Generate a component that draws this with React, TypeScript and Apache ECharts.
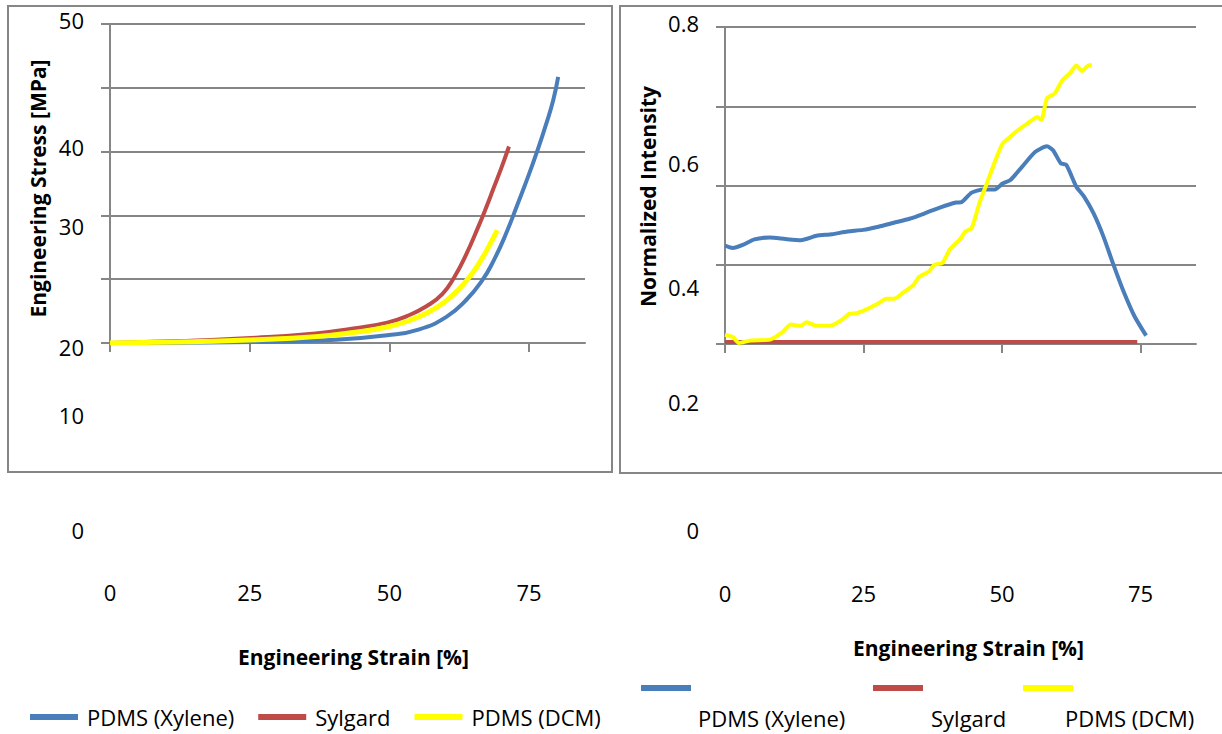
import React, { useEffect, useRef } from 'react';
import * as echarts from 'echarts';

// ---- data ----
const seriesNames = ['PDMS (Xylene)', 'Sylgard', 'PDMS (DCM)'];
const seriesColors = ['#4a7ebb', '#be4b48', '#ffff00'];
const strainTicks = [0, 25, 50, 75];
const stressTickLabels = ['50', '40', '30', '20', '10', '0'];
const intensityTickLabels = ['0.8', '0.6', '0.4', '0.2', '0'];

// stress–strain (left panel): [strain %, stress MPa]
const xyleneStress = [
  [0, 0], [26.2, 0.16], [40.4, 0.5], [49.6, 1.2], [55.2, 2.1], [60.2, 4.1], [63.7, 6.7],
  [66.6, 9.8], [68.7, 13.0], [70.8, 17.0], [73.0, 21.9], [75.0, 26.5], [76.5, 30.2],
  [78.0, 34.2], [79.3, 38.0], [80.2, 41.7],
];
const sylgardStress = [
  [0, 0], [12, 0.3], [26.2, 0.84], [36.8, 1.5], [43.9, 2.3], [49.6, 3.2], [53.1, 4.2],
  [56.7, 5.8], [59.5, 7.7], [61.6, 10.3], [63.7, 13.8], [65.9, 18.2], [67.3, 21.2],
  [68.7, 24.4], [70.1, 27.6], [71.4, 30.8],
];
const dcmStress = [
  [0, 0], [12, 0.16], [26.2, 0.5], [36.8, 1.0], [43.9, 1.7], [49.6, 2.5], [53.8, 3.6],
  [56.7, 4.7], [59.5, 6.2], [62.3, 8.3], [64.8, 10.9], [66.6, 13.3], [68.0, 15.5], [69.3, 17.7],
];

// normalized intensity (right panel): [strain %, intensity]
const xyleneIntensity = [
  [0, 0.248], [1.4, 0.242], [3.2, 0.25], [5.3, 0.264], [8.1, 0.269], [10.9, 0.265],
  [13.7, 0.262], [16.5, 0.273], [19.3, 0.277], [22.1, 0.284], [24.9, 0.288], [27.7, 0.296],
  [30.5, 0.306], [33.3, 0.316], [36.1, 0.33], [38.9, 0.345], [41.7, 0.357], [42.7, 0.358],
  [44.5, 0.382], [46.6, 0.39], [48.7, 0.39], [50.1, 0.405], [51.5, 0.414], [53.6, 0.447],
  [56.0, 0.485], [58.1, 0.499], [59.2, 0.489], [60.6, 0.456], [61.6, 0.452], [63.4, 0.397],
  [64.8, 0.372], [66.5, 0.33], [68.3, 0.271], [70.0, 0.204], [71.8, 0.137], [73.9, 0.07],
  [76.0, 0.021],
];
const sylgardIntensity = [[0, 0.005], [74.4, 0.005]];
const dcmIntensity = [
  [0, 0.0235], [1.4, 0.0176], [2.5, 0.0025], [4.6, 0.009], [8.1, 0.011], [10.2, 0.028],
  [11.9, 0.049], [13.7, 0.046], [14.7, 0.055], [16.5, 0.046], [18.9, 0.046], [21.0, 0.06],
  [22.4, 0.076], [23.8, 0.078], [25.6, 0.088], [27.7, 0.103], [29.1, 0.114], [30.5, 0.114],
  [32.2, 0.13], [34.0, 0.149], [35.0, 0.169], [36.8, 0.183], [37.8, 0.2], [39.2, 0.204],
  [40.6, 0.239], [42.4, 0.264], [43.4, 0.284], [44.5, 0.292], [45.9, 0.355], [47.3, 0.407],
  [48.7, 0.46], [50.1, 0.506], [51.5, 0.523], [52.9, 0.54], [54.6, 0.557], [56.4, 0.573],
  [57.1, 0.565], [58.1, 0.62], [59.5, 0.632], [60.9, 0.666], [62.3, 0.684], [63.4, 0.703],
  [64.4, 0.689], [65.5, 0.702], [66.2, 0.705],
];

const FONT = "'Open Sans', 'Noto Sans', sans-serif";
const GRAY = '#868686';

export default function App() {
  const ref = useRef<HTMLDivElement>(null);

  useEffect(() => {
    const chart = echarts.init(ref.current!, null, { renderer: 'svg' });

    const xAxisBase = (gridIndex: number, nameGap: number, padLeft: number) => ({
      type: 'value',
      gridIndex,
      min: 0,
      max: 85,
      interval: 25,
      name: 'Engineering Strain [%]',
      nameLocation: 'middle',
      nameGap,
      nameTextStyle: { fontFamily: FONT, fontSize: 21, fontWeight: 'bold', color: '#000', padding: [0, 0, 0, padLeft] },
      splitLine: { show: false },
      axisLine: { show: true, onZero: false, lineStyle: { color: GRAY, width: 2 } },
      axisTick: { show: true, length: 9, customValues: strainTicks, lineStyle: { color: GRAY, width: 2 } },
      axisLabel: { customValues: strainTicks, margin: 238, fontFamily: FONT, fontSize: 22, color: '#000' },
    });

    const yAxisBase = (gridIndex: number, max: number, interval: number, name: string, nameGap: number, padRight: number) => ({
      type: 'value',
      gridIndex,
      min: 0,
      max,
      interval,
      name,
      nameLocation: 'middle',
      nameRotate: 90,
      nameGap,
      nameTextStyle: { fontFamily: FONT, fontSize: 21, fontWeight: 'bold', color: '#000', padding: [0, padRight, 0, 0] },
      axisLine: { show: true, lineStyle: { color: GRAY, width: 2 } },
      axisTick: { show: true, length: 9, lineStyle: { color: GRAY, width: 2 } },
      axisLabel: { show: false },
      splitLine: { show: true, lineStyle: { color: GRAY, width: 2 } },
    });

    const lineSeries = (name: string, color: string, data: number[][], xi: number, width: number, smooth: number) => ({
      type: 'line',
      name,
      xAxisIndex: xi,
      yAxisIndex: xi,
      data,
      showSymbol: false,
      smooth,
      lineStyle: { color, width },
      itemStyle: { color },
      emphasis: { disabled: true },
    });

    const leftLabelY = [20, 147, 226, 347, 415, 530];
    const rightLabelY = [23, 163, 287, 402, 530];
    const legendMarkX = [641, 873, 1023];
    const legendTextX = [698, 931, 1065];

    const graphic: any[] = [
      { type: 'rect', silent: true, shape: { x: 8, y: 6, width: 604, height: 466 }, style: { fill: 'none', stroke: GRAY, lineWidth: 2 } },
      { type: 'rect', silent: true, shape: { x: 620, y: 6, width: 640, height: 467 }, style: { fill: 'none', stroke: GRAY, lineWidth: 2 } },
    ];
    stressTickLabels.forEach((t, i) => {
      graphic.push({ type: 'text', silent: true, x: 84, y: leftLabelY[i], style: { text: t, fontFamily: FONT, fontSize: 22, fill: '#000', align: 'right', verticalAlign: 'middle' } });
    });
    intensityTickLabels.forEach((t, i) => {
      graphic.push({ type: 'text', silent: true, x: 699, y: rightLabelY[i], style: { text: t, fontFamily: FONT, fontSize: 22, fill: '#000', align: 'right', verticalAlign: 'middle' } });
    });
    seriesNames.forEach((n, i) => {
      graphic.push({ type: 'rect', silent: true, shape: { x: legendMarkX[i], y: 685, width: 50, height: 6 }, style: { fill: seriesColors[i] } });
      graphic.push({ type: 'text', silent: true, x: legendTextX[i], y: 718, style: { text: n, fontFamily: FONT, fontSize: 22, fill: '#000', align: 'left', verticalAlign: 'middle' } });
    });

    chart.setOption({
      animation: false,
      backgroundColor: '#fff',
      textStyle: { fontFamily: FONT },
      grid: [
        { left: 110, top: 24, width: 475, height: 319 },
        { left: 725, top: 27, width: 471, height: 317 },
      ],
      xAxis: [xAxisBase(0, 303, 12), xAxisBase(1, 293, 16)],
      yAxis: [
        yAxisBase(0, 50, 10, 'Engineering Stress [MPa]', 62, 10),
        yAxisBase(1, 0.8, 0.2, 'Normalized Intensity', 67, 22),
      ],
      legend: {
        data: seriesNames,
        left: 25,
        top: 699,
        icon: 'rect',
        itemWidth: 48,
        itemHeight: 6,
        itemGap: 24,
        selectedMode: false,
        textStyle: { fontFamily: FONT, fontSize: 22, color: '#000', lineHeight: 26, padding: [0, 0, 0, 4] },
      },
      series: [
        lineSeries(seriesNames[0], seriesColors[0], xyleneStress, 0, 4, 0.5),
        lineSeries(seriesNames[1], seriesColors[1], sylgardStress, 0, 4, 0.5),
        lineSeries(seriesNames[2], seriesColors[2], dcmStress, 0, 5, 0.5),
        lineSeries(seriesNames[0], seriesColors[0], xyleneIntensity, 1, 4, 0.2),
        lineSeries(seriesNames[1], seriesColors[1], sylgardIntensity, 1, 4, 0),
        lineSeries(seriesNames[2], seriesColors[2], dcmIntensity, 1, 4, 0.2),
      ],
      graphic,
    });

    return () => chart.dispose();
  }, []);

  return <div ref={ref} style={{ position: 'absolute', left: 0, top: 0, width: 1222, height: 734 }} />;
}
